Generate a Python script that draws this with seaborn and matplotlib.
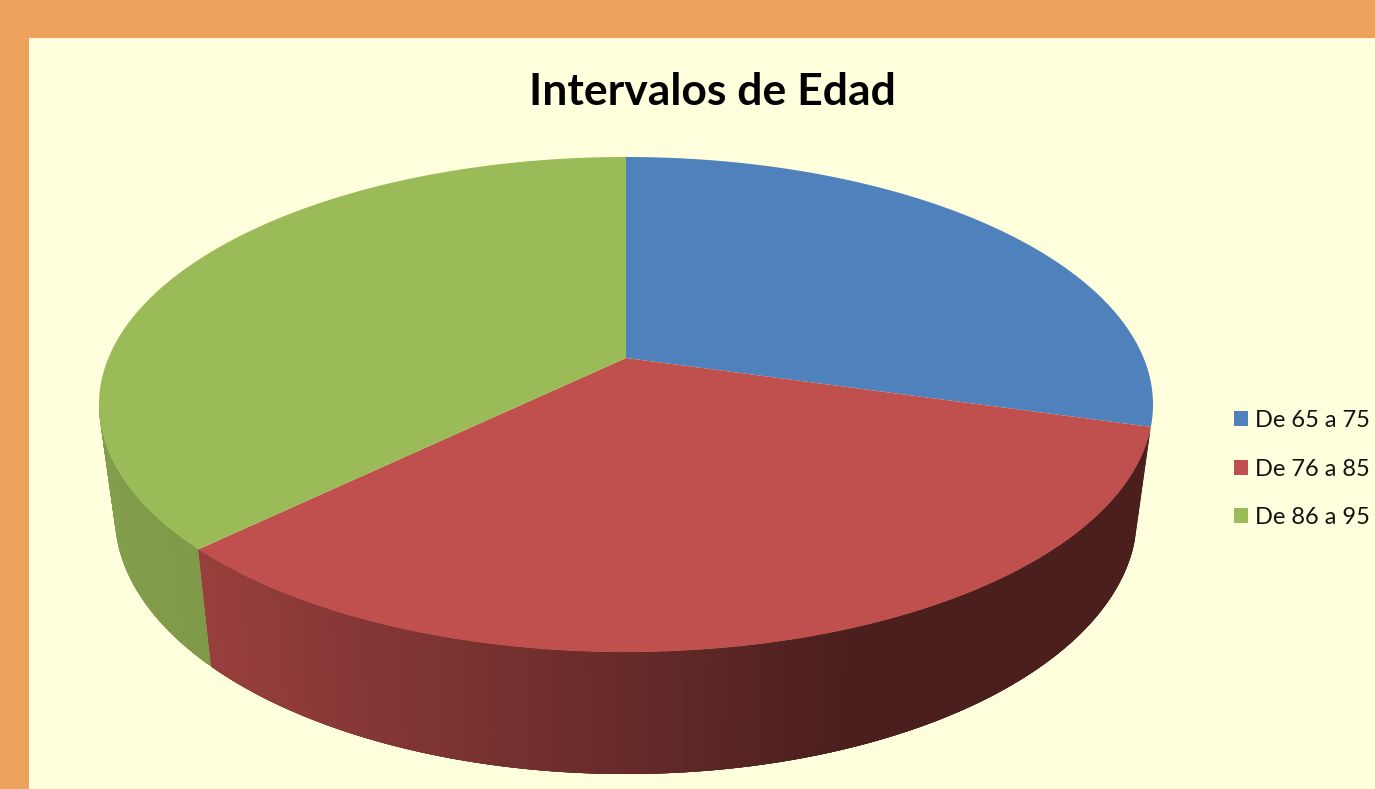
import numpy as np
import matplotlib
matplotlib.use('Agg')
import matplotlib.pyplot as plt
from matplotlib.collections import PolyCollection
from matplotlib.patches import Patch, Rectangle
import seaborn as sns

# Datos
intervalos = ['De 65 a 75', 'De 76 a 85', 'De 86 a 95']
personas = [15, 17, 19]
colores = ['#4F81BD', '#C0504D', '#9BBB59']
titulo = 'Intervalos de Edad'

sns.set_theme(style='white')
plt.rcParams['font.family'] = ['Lato', 'DejaVu Sans']

# Geometria de la tarta en perspectiva (pixeles de la figura)
CX, K = 626, 0.188
TOP_Y, TOP_A, TOP_B = 358, 517.6, 238.8
BASE_Y, BASE_A, BASE_B = 467, 502, 249.3


def rim(ang, y0, a, b):
    u, v = np.cos(ang), np.sin(ang)
    w = 1 + K * v
    return np.column_stack([CX + a * u / w, y0 - b * v / w])


# sombra del lateral segun x
def shade(x, base, xs, fs):
    return tuple(np.array(matplotlib.colors.to_rgb(base)) * np.interp(x, xs, fs))


fig = plt.figure(figsize=(13.75, 7.89), dpi=100, facecolor='#EDA25E')
ax = fig.add_axes([0, 0, 1, 1])
ax.set_xlim(0, 1375)
ax.set_ylim(789, 0)
ax.axis('off')
ax.add_patch(Rectangle((29, 38), 1346, 751, fc='#FFFFDD', ec='none'))

fracs = np.array(personas) / sum(personas)
bordes = np.pi / 2 - 2 * np.pi * np.concatenate([[0], np.cumsum(fracs)])

# laterales: verde primero, luego rojo (el azul queda oculto)
sombras = {1: ([200, 600, 850, 1150], [0.79, 0.55, 0.39, 0.39]),
           2: ([100, 200], [0.84, 0.82])}
for i in [2, 1]:
    ini, fin = bordes[i], bordes[i + 1]
    if i == 2:
        fin = np.radians(-170)  # parte trasera tapada por la cara superior
    ang = np.linspace(ini, fin, 160)
    t = rim(ang, TOP_Y, TOP_A, TOP_B)
    b = rim(ang, BASE_Y, BASE_A, BASE_B)
    quads, cols = [], []
    for j in range(len(ang) - 1):
        # cada tira pisa a la siguiente para que no se vean costuras
        k = min(j + 4, len(ang) - 1)
        quads.append(np.vstack([t[j:k + 1], b[j:k + 1][::-1]]))
        cols.append(shade(t[j:j + 2, 0].mean(), colores[i], *sombras[i]))
    ax.add_collection(PolyCollection(quads, facecolors=cols, edgecolors='none'))

# cara superior
for i, c in enumerate(colores):
    ang = np.linspace(bordes[i], bordes[i + 1], 300)
    pts = np.vstack([[CX, TOP_Y], rim(ang, TOP_Y, TOP_A, TOP_B)])
    ax.fill(pts[:, 0], pts[:, 1], fc=c, ec='none')

ax.text(712, 92, titulo, ha='center', va='center', fontsize=32, fontweight='bold', color='black')

handles = [Patch(fc=c, ec='none', label=l) for c, l in zip(colores, intervalos)]
ax.legend(handles=handles, loc='center left', bbox_to_anchor=(1234 / 1375, 1 - 469 / 789),
          frameon=False, fontsize=17, labelcolor='#111111', handlelength=0.6, handleheight=0.62,
          handletextpad=0.3, labelspacing=1.16, borderpad=0, borderaxespad=0)

fig.savefig('out.png', dpi=100, facecolor=fig.get_facecolor())
